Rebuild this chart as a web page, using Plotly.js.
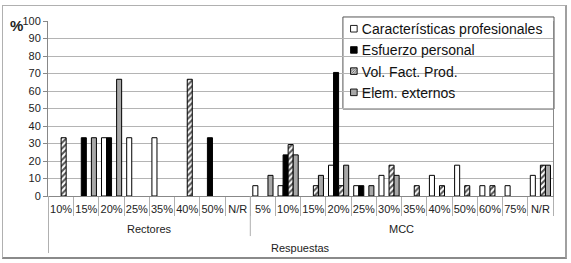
<!DOCTYPE html>
<html>
<head>
<meta charset="utf-8">
<script src="https://cdn.plot.ly/plotly-3.0.1.min.js"></script>
<style>
html,body{margin:0;padding:0;background:#fff;}
#wrap{position:relative;width:571px;height:263px;}
#chart{position:absolute;left:0;top:0;width:571px;height:263px;}
#frame{position:absolute;left:2px;top:5px;width:562px;height:251px;border:1px solid #b0b0b0;border-bottom:2px solid #8a8a8a;border-right:2px solid #a0a0a0;pointer-events:none;}
</style>
</head>
<body>
<div id="wrap"><div id="chart"></div><div id="frame"></div></div>
<script>
// ---- data ----
var groups = ["Rectores","Rectores","Rectores","Rectores","Rectores","Rectores","Rectores","Rectores",
              "MCC","MCC","MCC","MCC","MCC","MCC","MCC","MCC","MCC","MCC","MCC","MCC"];
var labels = ["10%","15%","20%","25%","35%","40%","50%","N/R",
              "5%","10%","15%","20%","25%","30%","35%","40%","50%","60%","75%","N/R"];
var seriesNames = ["Características profesionales","Esfuerzo personal","Vol. Fact. Prod.","Elem. externos"];
var caracteristicas = [0,0,33.3,33.3,33.3,0,0,0, 5.9,5.9,0,17.6,5.9,11.8,0,11.8,17.6,5.9,5.9,11.8];
var esfuerzo        = [0,33.3,33.3,0,0,0,33.3,0, 0,23.5,0,70.6,5.9,0,0,0,0,0,0,0];
var volFact         = [33.3,0,0,0,0,66.7,0,0, 0,29.4,5.9,5.9,0,17.6,5.9,5.9,5.9,5.9,0,17.6];
var elemExternos    = [0,33.3,66.7,0,0,0,0,0, 11.8,23.5,11.8,17.6,5.9,11.8,0,0,0,0,0,17.6];
var xTitle = "Respuestas";
var yLabel = "%";

// unique category keys built from groups + labels
var keys = labels.map(function(l,i){ return groups[i] + '|' + l; });

// outline only where a bar exists (no dark stubs on the baseline for zero values)
function outline(vals){ return {color:'#000', width:vals.map(function(v){ return v > 0 ? 1 : 0; })}; }

var traces = [
  {type:'bar', name:seriesNames[0], x:keys, y:caracteristicas, legendgroup:'a',
   marker:{color:'#ffffff', line:outline(caracteristicas)}},
  {type:'bar', name:seriesNames[1], x:keys, y:esfuerzo, legendgroup:'b',
   marker:{color:'#000000', line:outline(esfuerzo)}},
  {type:'bar', name:seriesNames[2], x:keys, y:volFact, legendgroup:'c',
   marker:{color:'#ffffff', line:outline(volFact), pattern:{shape:'/', fgcolor:'#555555', bgcolor:'#ffffff', size:4, solidity:0.5}}},
  {type:'bar', name:seriesNames[3], x:keys, y:elemExternos, legendgroup:'d',
   marker:{color:'#a8a8a8', line:outline(elemExternos)}}
];

// group labels and dividers derived from the groups array
var groupNames = [];
var groupStart = {}, groupEnd = {};
groups.forEach(function(g,i){
  if (groupStart[g] === undefined) { groupStart[g] = i; groupNames.push(g); }
  groupEnd[g] = i;
});
var gc = '#b0b0b0';
var shapes = [
  {type:'rect', xref:'paper', yref:'paper', x0:0.584, x1:1.002, y0:0.497, y1:1.023,
   line:{color:'#555', width:1}, fillcolor:'#ffffff', layer:'below'},
  {type:'line', xref:'x', yref:'paper', x0:-0.5, x1:-0.5, y0:0, y1:-0.326,
   line:{color:gc, width:1}}
];
var annotations = [
  {text:'<b>' + yLabel + '</b>', xref:'paper', yref:'paper', x:-0.063, y:0.975, showarrow:false,
   xanchor:'center', yanchor:'middle', font:{size:15, color:'#222'}},
  {text:xTitle, xref:'paper', yref:'paper', x:0.5, y:-0.297, showarrow:false,
   xanchor:'center', yanchor:'middle', font:{size:11, color:'#222'}}
];
groupNames.forEach(function(g, k){
  annotations.push({text:g, xref:'x', yref:'paper', x:(groupStart[g] + groupEnd[g]) / 2,
    y:-0.189, showarrow:false, xanchor:'center', yanchor:'middle', font:{size:11, color:'#222'}});
  if (k > 0) {
    shapes.push({type:'line', xref:'x', yref:'paper', x0:groupStart[g] - 0.5, x1:groupStart[g] - 0.5,
      y0:0, y1:-0.229, line:{color:gc, width:1}});
  }
});

var layout = {
  width:571, height:263,
  margin:{l:48, r:18, t:21, b:67},
  paper_bgcolor:'#ffffff', plot_bgcolor:'#ffffff',
  font:{family:'Liberation Sans, Arial, sans-serif', size:11, color:'#222'},
  barmode:'group', bargap:0.2, bargroupgap:0,
  showlegend:true,
  legend:{x:0.572, y:1.045, xanchor:'left', yanchor:'top',
          bgcolor:'rgba(0,0,0,0)', borderwidth:0,
          font:{size:14, color:'#111'}, traceorder:'grouped', tracegroupgap:0,
          indentation:-15, itemwidth:30},
  xaxis:{type:'category', tickvals:keys, ticktext:labels, tickangle:0,
         tickson:'boundaries', ticks:'outside', ticklen:19, tickcolor:gc,
         ticklabelstandoff:3,
         showline:true, linecolor:'#888', linewidth:1, showgrid:false,
         tickfont:{size:11, color:'#222'}},
  yaxis:{range:[0,100], dtick:10, showline:true, linecolor:'#888', mirror:true,
         ticks:'outside', ticklen:4, tickcolor:'#888',
         gridcolor:'#b4b4b4', gridwidth:1, zeroline:false,
         tickfont:{size:11, color:'#222'}},
  shapes:shapes,
  annotations:annotations
};
Plotly.newPlot('chart', traces, layout, {displayModeBar:false, staticPlot:true}).then(function(gd){
  // smaller legend swatches, placed close to their labels (as in the original figure)
  var s = 0.55;
  gd.querySelectorAll('.legend .traces').forEach(function(item){
    var txt = item.querySelector('text.legendtext');
    if (!txt) return;
    var tLeft = txt.getBoundingClientRect().left;
    item.querySelectorAll('.legendpoints path').forEach(function(p){
      var old = p.getAttribute('transform') || '';
      var bb = p.getBBox();
      var r = p.getBoundingClientRect();
      var cx = bb.x + bb.width / 2, cy = bb.y + bb.height / 2;
      var curC = (r.left + r.right) / 2;
      var dx = (tLeft - 8) - curC;
      p.setAttribute('transform', old +
        ' translate(' + (cx + dx) + ',' + cy + ') scale(' + s + ') translate(' + (-cx) + ',' + (-cy) + ')');
      p.style.stroke = '#000000';
      p.style.strokeOpacity = '1';
      p.style.strokeWidth = '1.6px';
    });
  });
});
</script>
</body>
</html>
